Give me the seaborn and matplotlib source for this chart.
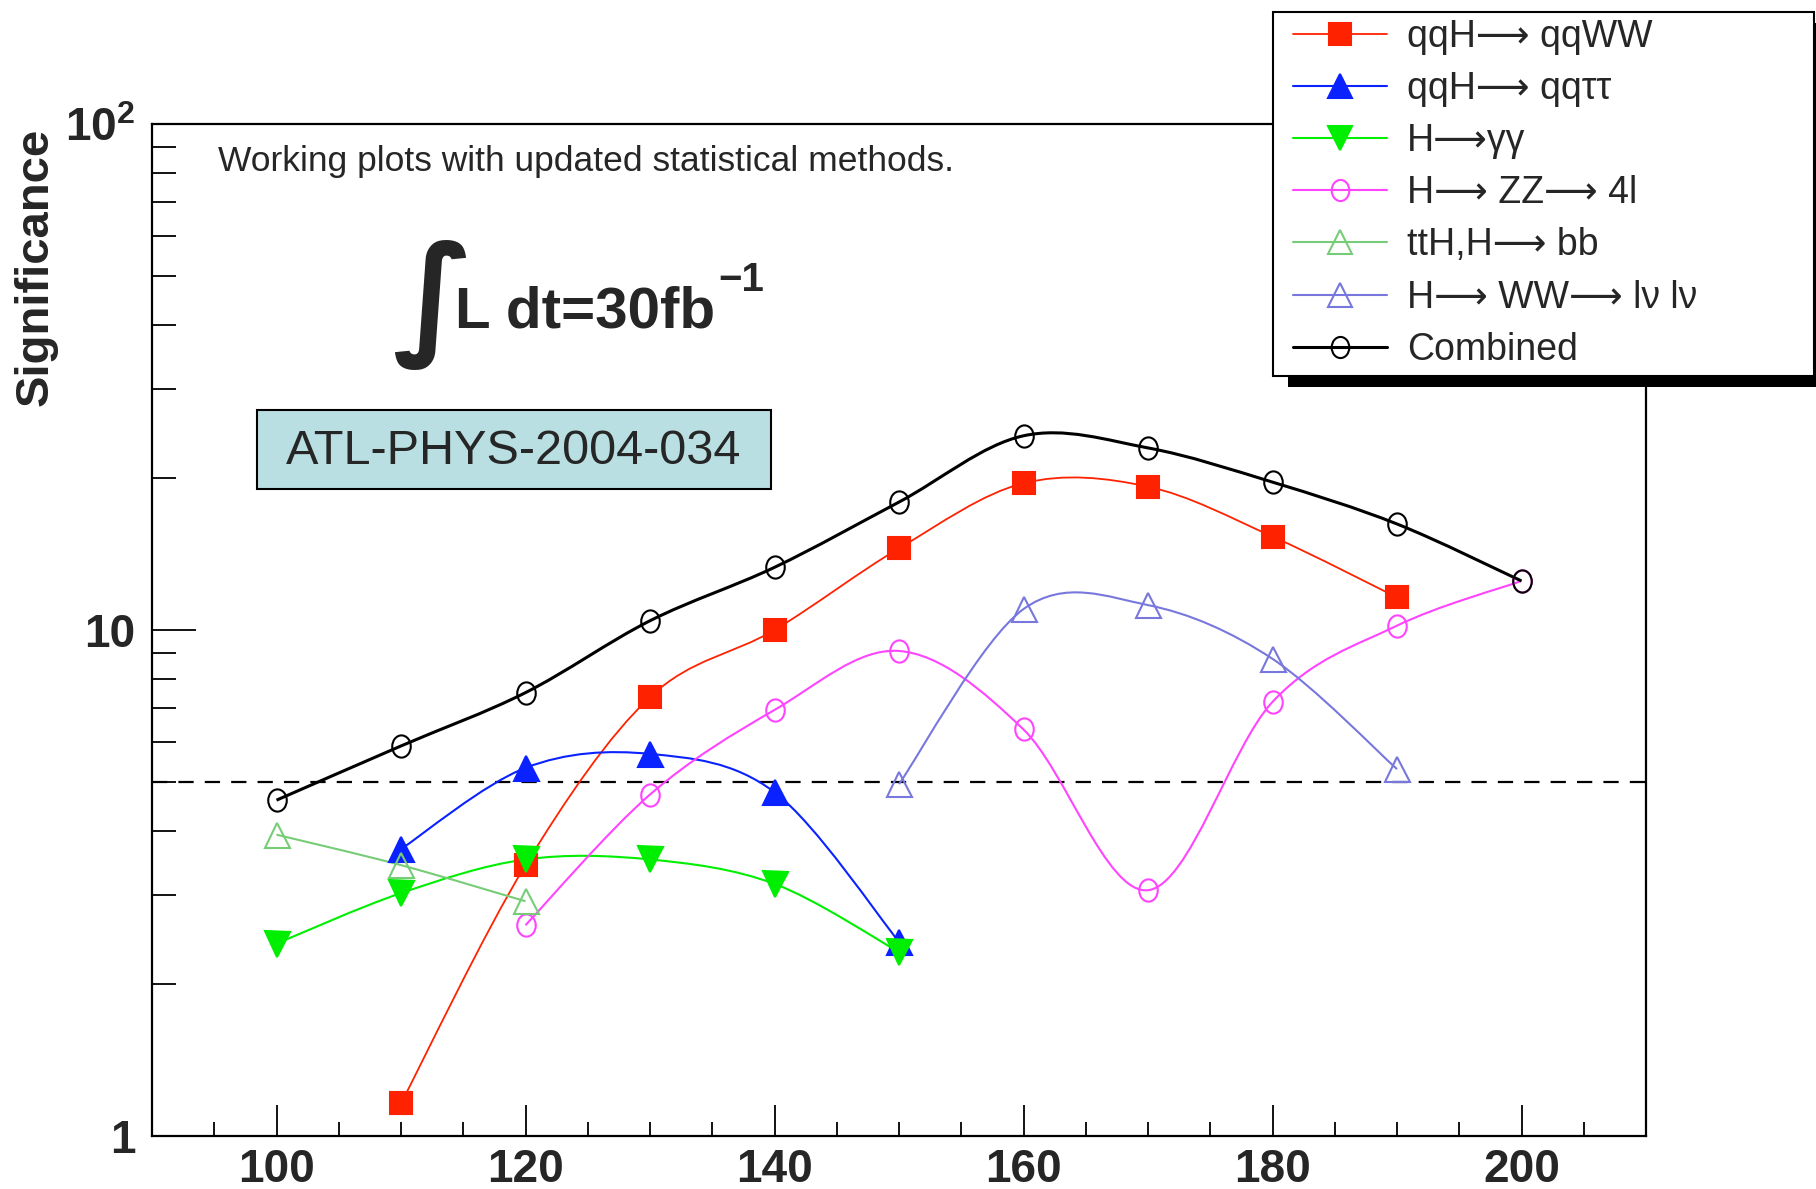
import numpy as np
import pandas as pd
import matplotlib
matplotlib.use("Agg")
import matplotlib.pyplot as plt
import seaborn as sns
from matplotlib.path import Path
from matplotlib.patches import PathPatch, Rectangle
from matplotlib.lines import Line2D
from matplotlib.ticker import FixedLocator, NullFormatter, LogLocator, MultipleLocator

# ---------------- data ----------------
labels = ["qqH\u27f6 qqWW", "qqH\u27f6 qq\u03c4\u03c4", "H\u27f6\u03b3\u03b3",
          "H\u27f6 ZZ\u27f6 4l", "ttH,H\u27f6 bb", "H\u27f6 WW\u27f6 l\u03bd l\u03bd", "Combined"]

mass_qqww = [110, 120, 130, 140, 150, 160, 170, 180, 190]
sig_qqww = [1.16, 3.43, 7.37, 10.0, 14.5, 19.5, 19.2, 15.3, 11.6]

mass_qqtautau = [110, 120, 130, 140, 150]
sig_qqtautau = [3.69, 5.34, 5.69, 4.78, 2.42]

mass_gamgam = [100, 110, 120, 130, 140, 150]
sig_gamgam = [2.40, 3.02, 3.52, 3.52, 3.15, 2.31]

mass_zz4l = [120, 130, 140, 150, 160, 170, 180, 190, 200]
sig_zz4l = [2.61, 4.73, 6.95, 9.09, 6.36, 3.06, 7.21, 10.2, 12.5]

mass_tthbb = [100, 110, 120]
sig_tthbb = [3.94, 3.43, 2.91]

mass_wwlvlv = [150, 160, 170, 180, 190]
sig_wwlvlv = [4.96, 11.0, 11.2, 8.77, 5.31]

mass_combined = [100, 110, 120, 130, 140, 150, 160, 170, 180, 190, 200]
sig_combined = [4.61, 5.90, 7.52, 10.43, 13.3, 17.9, 24.2, 22.9, 19.6, 16.2, 12.5]

discovery_threshold = 5.0
x_ticks = [100, 120, 140, 160, 180, 200]
y_ticks = [1, 10, 100]
y_ticklabels = ["1", "10", r"$\mathbf{10^{2}}$"]

# ---------------- styles ----------------
_c = Path.unit_circle()
ellipse = Path(_c.vertices * np.array([1.0, 1.2]), _c.codes)

styles = [
    dict(color="#ff2200", marker="s", filled=True, lw=1.3, ms=16),
    dict(color="#0a22ff", marker="^", filled=True, lw=1.5, ms=18),
    dict(color="#00ee00", marker="v", filled=True, lw=1.5, ms=18),
    dict(color="#ff44ff", marker=ellipse, filled=False, lw=1.5, ms=16),
    dict(color="#77cc77", marker="^", filled=False, lw=1.5, ms=18),
    dict(color="#7777dd", marker="^", filled=False, lw=1.5, ms=18),
    dict(color="#000000", marker=ellipse, filled=False, lw=2.2, ms=16),
]
series = [(mass_qqww, sig_qqww), (mass_qqtautau, sig_qqtautau), (mass_gamgam, sig_gamgam),
          (mass_zz4l, sig_zz4l), (mass_tthbb, sig_tthbb), (mass_wwlvlv, sig_wwlvlv),
          (mass_combined, sig_combined)]

frames = []
for lab, (m, s) in zip(labels, series):
    frames.append(pd.DataFrame({"mass": m, "significance": s, "channel": lab}))
df = pd.concat(frames, ignore_index=True)

sns.set_theme(style="white")
plt.rcParams["font.family"] = ["Liberation Sans", "DejaVu Sans"]
plt.rcParams["mathtext.fontset"] = "custom"
plt.rcParams["mathtext.rm"] = "Liberation Sans:bold"
plt.rcParams["mathtext.bf"] = "Liberation Sans:bold"
plt.rcParams["mathtext.it"] = "Liberation Sans:bold"
plt.rcParams["lines.scale_dashes"] = False

W, H = 1816, 1189
fig = plt.figure(figsize=(W / 100, H / 100), dpi=100)
fx = lambda px: px / W
fy = lambda py: 1 - py / H

ax = fig.add_axes([fx(152), fy(1136), fx(1646) - fx(152), fy(124) - fy(1136)])
ax.set_yscale("log")
ax.set_xlim(90, 210)
ax.set_ylim(1, 100)


def smooth_path(xs, ys):
    P = np.column_stack([np.asarray(xs, float), np.log10(np.asarray(ys, float))])
    Pe = np.vstack([P[0], P, P[-1]])
    verts = [P[0]]
    codes = [Path.MOVETO]
    for i in range(len(P) - 1):
        p0, p1, p2, p3 = Pe[i], Pe[i + 1], Pe[i + 2], Pe[i + 3]
        verts += [p1 + (p2 - p0) / 6.0, p2 - (p3 - p1) / 6.0, p2]
        codes += [Path.CURVE4] * 3
    V = np.array(verts)
    V[:, 1] = 10 ** V[:, 1]
    return Path(V, codes)


# dashed 5-sigma line
ax.axhline(discovery_threshold, color="black", lw=1.6, linestyle=(0, (11, 8)), zorder=1)

# smooth curves through the points
for lab, st in zip(labels, styles):
    sub = df[df["channel"] == lab]
    patch = PathPatch(smooth_path(sub["mass"], sub["significance"]), facecolor="none",
                      edgecolor=st["color"], lw=st["lw"], zorder=2)
    ax.add_patch(patch)

# markers via seaborn
for lab, st in zip(labels, styles):
    sub = df[df["channel"] == lab]
    sns.lineplot(data=sub, x="mass", y="significance", ax=ax, estimator=None, errorbar=None,
                 sort=False, linestyle="", marker=st["marker"], markersize=st["ms"],
                 markerfacecolor=st["color"] if st["filled"] else "none",
                 markeredgecolor=st["color"], markeredgewidth=1.5, color=st["color"],
                 zorder=3, legend=False)

ax.set_xlabel("")
ax.set_ylabel("")

# ticks
ax.xaxis.set_major_locator(FixedLocator(x_ticks))
ax.xaxis.set_minor_locator(MultipleLocator(5))
ax.yaxis.set_major_locator(FixedLocator(y_ticks))
ax.yaxis.set_minor_locator(LogLocator(base=10, subs=np.arange(2, 10)))
ax.yaxis.set_minor_formatter(NullFormatter())
ax.set_yticklabels(y_ticklabels)
ax.tick_params(axis="x", which="both", direction="in", bottom=True, top=False,
               labelsize=33, pad=9, color="black", width=1.3)
ax.tick_params(axis="x", which="major", length=22)
ax.tick_params(axis="x", which="minor", length=10)
ax.tick_params(axis="y", which="both", direction="in", left=True, right=False,
               labelsize=33, pad=12, color="black", width=1.3)
ax.tick_params(axis="y", which="major", length=32)
ax.tick_params(axis="y", which="minor", length=17)
for t in ax.get_xticklabels() + ax.get_yticklabels():
    t.set_fontweight("bold")
for sp in ax.spines.values():
    sp.set_visible(True)
    sp.set_color("black")
    sp.set_linewidth(1.6)

# y label
fig.text(fx(36), fy(128), "Significance", rotation=90, ha="center", va="top",
         fontsize=34, fontweight="bold")

# annotations
fig.text(fx(218), fy(162), "Working plots with updated statistical methods.",
         ha="left", va="center", fontsize=25.5)
fig.text(fx(392), fy(340), "\u222b", family=["DejaVu Sans"], fontsize=96,
         fontweight="bold", ha="left", va="baseline")
lum = fig.text(fx(455), fy(327), "L dt=30fb", ha="left", va="baseline",
               fontsize=42, fontweight="bold")

fig.patches.append(Rectangle((fx(257), fy(489)), fx(771) - fx(257), fy(410) - fy(489),
                             transform=fig.transFigure, facecolor="#b9dfe2",
                             edgecolor="black", lw=1.5, zorder=5))
fig.text(fx(514), fy(451), "ATL-PHYS-2004-034", ha="center", va="center",
         fontsize=35, zorder=6)

# legend: ROOT-style frame + shadow drawn explicitly, entries by matplotlib legend
lx0, ly0, lx1, ly1 = 1273, 12, 1814, 376
ox, oy = 15, 11
fig.patches.append(Rectangle((fx(lx0 + ox), fy(ly1 + oy)), fx(lx1 + 40) - fx(lx0 + ox),
                             fy(ly0 + oy) - fy(ly1 + oy), transform=fig.transFigure,
                             facecolor="black", edgecolor="none", zorder=7))
fig.patches.append(Rectangle((fx(lx0), fy(ly1)), fx(lx1) - fx(lx0), fy(ly0) - fy(ly1),
                             transform=fig.transFigure, facecolor="white",
                             edgecolor="black", lw=1.5, zorder=8))
handles = [Line2D([], [], color=st["color"], lw=st["lw"], marker=st["marker"],
                  markersize=st["ms"] * 0.95,
                  markerfacecolor=st["color"] if st["filled"] else "none",
                  markeredgecolor=st["color"], markeredgewidth=1.5)
           for st in styles]
leg = fig.legend(handles, labels, loc="upper left", bbox_to_anchor=(fx(1293), fy(19)),
                 fontsize=27, frameon=False, borderaxespad=0, borderpad=0,
                 handlelength=2.5, handletextpad=0.55, labelspacing=0.43)
leg.set_zorder(9)

# superscript placed from rendered extent
fig.canvas.draw()
r = fig.canvas.get_renderer()
bb = lum.get_window_extent(r)
fig.text(bb.x1 / W + fx(3), fy(261), "\u22121", ha="left", va="top",
         fontsize=29, fontweight="bold")

fig.savefig("out.png", dpi=100, facecolor="white")
